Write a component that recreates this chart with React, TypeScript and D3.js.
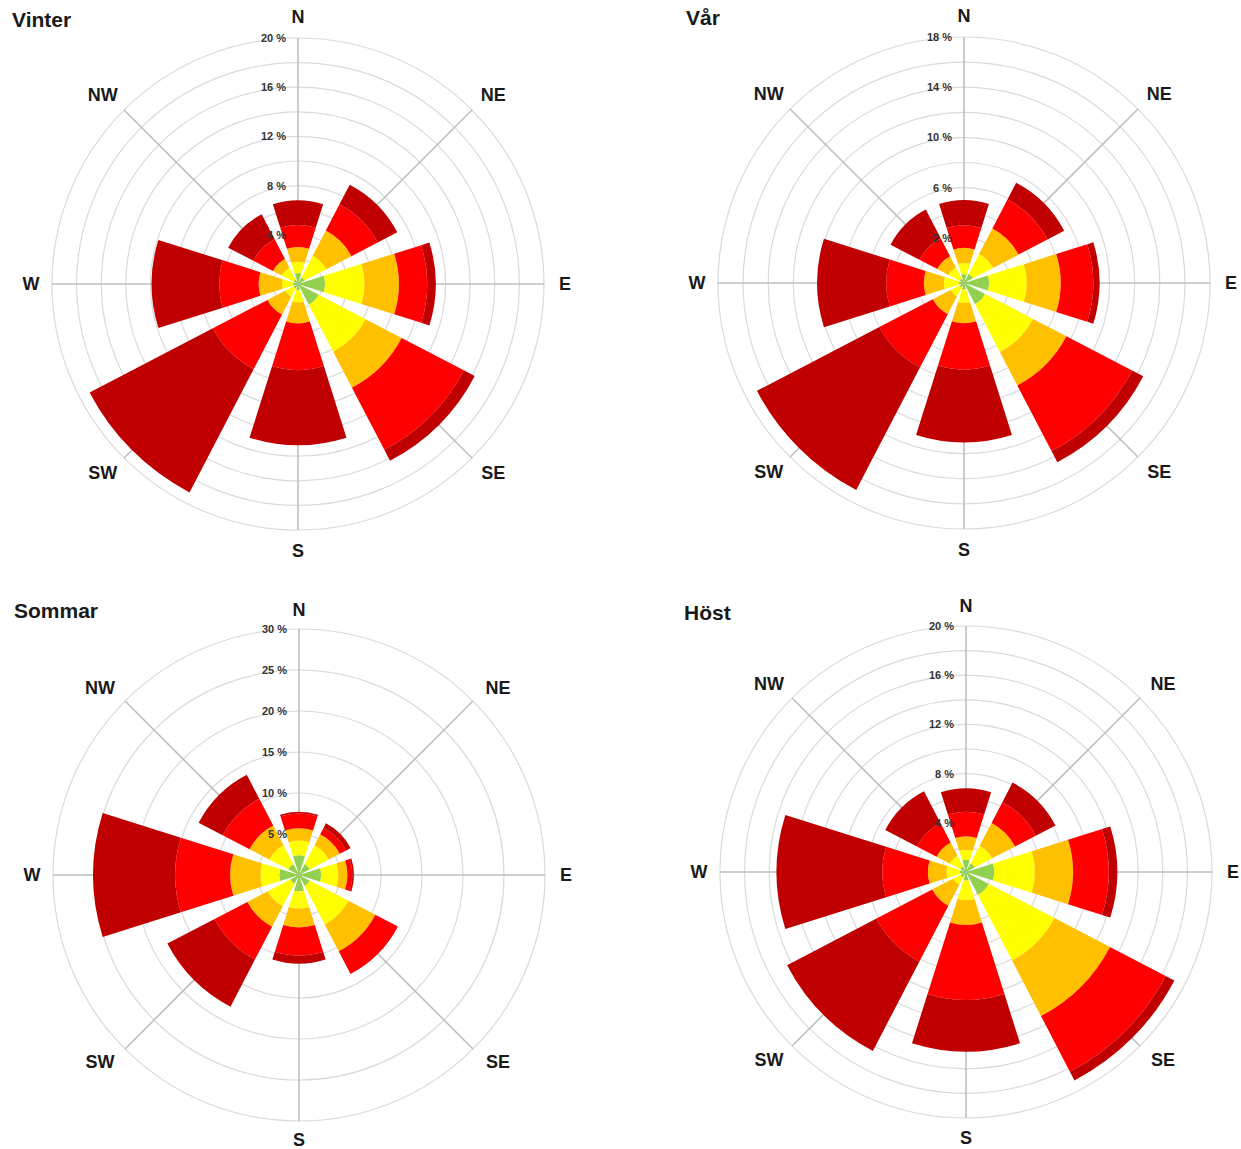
import React from "react";
import * as d3 from "d3";

// ---------- data ----------
const directions = ["N", "NE", "E", "SE", "S", "SW", "W", "NW"];
const speedClasses = ["Klass 1", "Klass 2", "Klass 3", "Klass 4", "Klass 5"];
const speedClassColors = ["#92D050", "#FFFF00", "#FFC000", "#FF0000", "#C00000"];
const seasonTitles = ["Vinter", "Vår", "Sommar", "Höst"];

// frequency (%) per speed class (rows) and direction (columns N..NW)
const vinterFrequency = [
  [0.9, 0.6, 2.2, 1.9, 0.5, 0.4, 0.4, 0.4],
  [0.9, 2.0, 3.2, 4.3, 1.0, 0.8, 0.9, 1.1],
  [1.2, 2.3, 2.8, 3.3, 1.7, 1.6, 1.9, 0.8],
  [1.8, 2.4, 2.3, 5.7, 3.8, 5.0, 3.2, 1.8],
  [2.0, 1.8, 0.7, 1.0, 6.1, 11.3, 5.5, 2.3],
];
const varFrequency = [
  [0.7, 0.8, 2.0, 1.9, 0.5, 0.4, 0.4, 0.4],
  [0.9, 1.8, 3.0, 4.3, 1.1, 0.8, 1.2, 1.0],
  [1.2, 2.3, 2.7, 3.0, 1.6, 1.6, 1.6, 1.0],
  [1.8, 2.6, 2.6, 5.9, 3.7, 4.8, 3.0, 1.6],
  [2.0, 1.5, 0.5, 1.0, 5.8, 11.0, 5.5, 2.6],
];
const sommarFrequency = [
  [2.4, 1.5, 2.7, 1.5, 2.0, 1.2, 2.4, 1.5],
  [1.8, 2.6, 2.1, 5.3, 2.1, 3.1, 2.3, 2.6],
  [1.5, 1.5, 1.1, 3.7, 2.3, 2.8, 3.7, 2.7],
  [1.8, 0.9, 0.6, 3.1, 3.4, 4.5, 6.7, 3.7],
  [0.2, 0.6, 0.2, 0.0, 1.0, 6.5, 10.0, 3.3],
];
const hostFrequency = [
  [1.0, 0.8, 2.3, 2.1, 0.7, 0.5, 0.5, 0.5],
  [0.8, 1.6, 3.3, 6.0, 1.6, 0.7, 1.1, 1.0],
  [1.1, 2.1, 3.1, 5.1, 2.0, 1.9, 1.5, 1.2],
  [2.0, 1.9, 2.9, 5.1, 6.1, 5.1, 3.7, 1.8],
  [1.9, 1.8, 0.7, 0.8, 4.2, 8.2, 8.6, 2.9],
];

// radial axes
const vinterDomain = [0, 20];
const varDomain = [-1.6, 18];
const sommarDomain = [0, 30];
const hostDomain = [0, 20];

const vinterRings = [2, 4, 6, 8, 10, 12, 14, 16, 18, 20];
const varRings = [2, 4, 6, 8, 10, 12, 14, 16, 18];
const sommarRings = [5, 10, 15, 20, 25, 30];
const hostRings = [2, 4, 6, 8, 10, 12, 14, 16, 18, 20];

const vinterTickLabels = [4, 8, 12, 16, 20];
const varTickLabels = [2, 6, 10, 14, 18];
const sommarTickLabels = [5, 10, 15, 20, 25, 30];
const hostTickLabels = [4, 8, 12, 16, 20];

// ---------- layout ----------
const W = 1241;
const H = 1149;
const OUTER_R = 246;
const FONT = "'Liberation Sans', Arial, Helvetica, sans-serif";

const panels = [
  { cx: 298, cy: 284, tx: 12, ty: 27, lx: 1, ly: 267 },
  { cx: 964, cy: 283, tx: 686, ty: 25, lx: 1, ly: 267 },
  { cx: 299, cy: 875, tx: 14, ty: 618, lx: 1.02, ly: 265 },
  { cx: 966, cy: 872, tx: 684, ty: 620, lx: 1.01, ly: 266 },
];

const seasonData = [
  { freq: vinterFrequency, domain: vinterDomain, rings: vinterRings, labels: vinterTickLabels },
  { freq: varFrequency, domain: varDomain, rings: varRings, labels: varTickLabels },
  { freq: sommarFrequency, domain: sommarDomain, rings: sommarRings, labels: sommarTickLabels },
  { freq: hostFrequency, domain: hostDomain, rings: hostRings, labels: hostTickLabels },
];

const WEDGE = (35 * Math.PI) / 180;

function Rose({ title, freq, domain, rings, labels, cx, cy, tx, ty, lx, ly }: any) {
  const r = d3.scaleLinear().domain(domain).range([0, OUTER_R]);
  const angle = d3
    .scalePoint<string>()
    .domain(directions)
    .range([0, (2 * Math.PI * (directions.length - 1)) / directions.length]);
  const arc = d3.arc<any>();

  const segments: any[] = [];
  directions.forEach((dir, di) => {
    let base = domain[0];
    speedClasses.forEach((cls, ci) => {
      const v = freq[ci][di];
      if (v > 0) {
        const a = angle(dir) as number;
        segments.push({
          key: `${dir}-${cls}`,
          d: arc({
            innerRadius: r(base),
            outerRadius: r(base + v),
            startAngle: a - WEDGE / 2,
            endAngle: a + WEDGE / 2,
          }),
          color: speedClassColors[ci],
        });
      }
      base += v;
    });
  });

  return (
    <g>
      <text x={tx} y={ty} fontFamily={FONT} fontWeight="bold" fontSize={21} fill="#1a1a1a">
        {title}
      </text>
      <g transform={`translate(${cx},${cy})`}>
        {rings.map((v: number) => (
          <circle key={v} r={r(v)} fill="none" stroke="#dadada" strokeWidth={1.2} />
        ))}
        {directions.map((dir) => {
          const a = angle(dir) as number;
          return (
            <line
              key={dir}
              x1={0}
              y1={0}
              x2={OUTER_R * Math.sin(a)}
              y2={-OUTER_R * Math.cos(a)}
              stroke="#bfbfbf"
              strokeWidth={1.6}
            />
          );
        })}
        {segments.map((s) => (
          <path key={s.key} d={s.d} fill={s.color} />
        ))}
        {labels.map((v: number) => (
          <text
            key={v}
            x={-12}
            y={-r(v)}
            textAnchor="end"
            dominantBaseline="central"
            fontFamily={FONT}
            fontWeight="bold"
            fontSize={11}
            fill="#333333"
          >
            {`${v} %`}
          </text>
        ))}
        {directions.map((dir, i) => {
          const a = angle(dir) as number;
          const rx = i % 2 === 0 ? 267 : 276 * lx;
          const ry = ly;
          return (
            <text
              key={dir}
              x={rx * Math.sin(a)}
              y={-ry * Math.cos(a)}
              textAnchor="middle"
              dominantBaseline="central"
              fontFamily={FONT}
              fontWeight="bold"
              fontSize={18}
              fill="#1a1a1a"
            >
              {dir}
            </text>
          );
        })}
      </g>
    </g>
  );
}

export default function App() {
  return (
    <svg
      width={W}
      height={H}
      style={{ position: "absolute", left: 0, top: 0, background: "#fff" }}
    >
      <rect width={W} height={H} fill="#fff" />
      {seasonTitles.map((t, i) => (
        <Rose key={t} title={t} {...seasonData[i]} {...panels[i]} />
      ))}
    </svg>
  );
}
